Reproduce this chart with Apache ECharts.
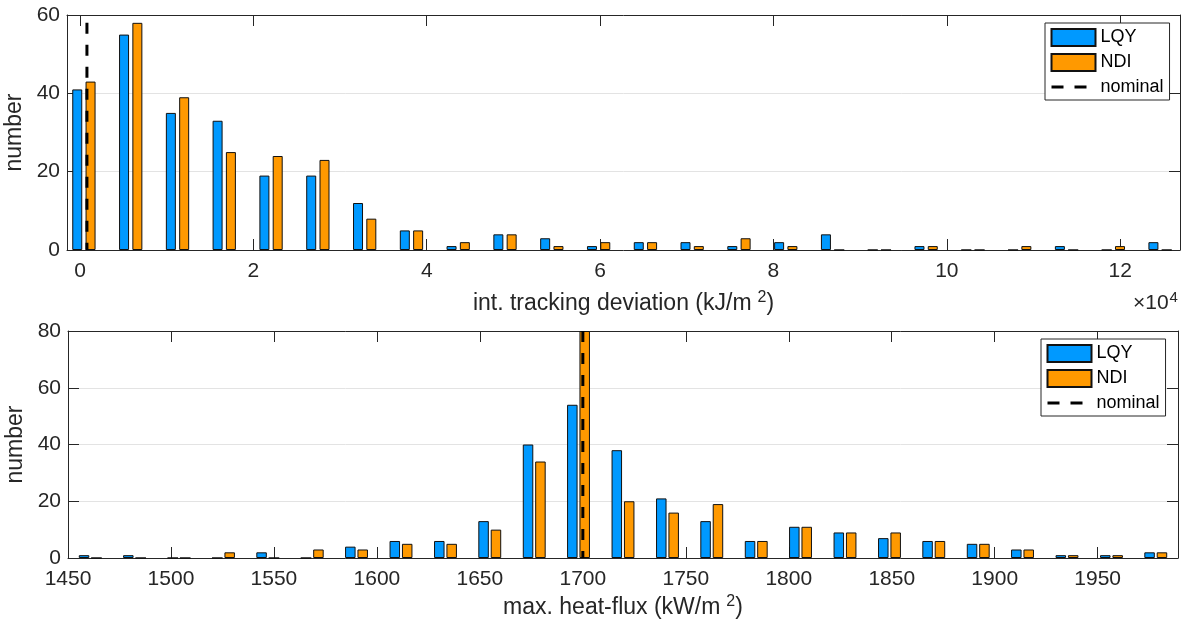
<!DOCTYPE html>
<html>
<head>
<meta charset="utf-8">
<script src="https://cdn.jsdelivr.net/npm/echarts@6/dist/echarts.min.js"></script>
<style>
html,body{margin:0;padding:0;background:#fff;}
#chart{width:1187px;height:627px;}
</style>
</head>
<body>
<div id="chart"></div>
<script>
// ---------- data ----------
// top: int. tracking deviation (x10^4 kJ/m^2), histogram bin centres
const topCenters = [0.045, 0.585, 1.125, 1.664, 2.204, 2.744, 3.284, 3.824, 4.363, 4.903, 5.443, 5.983,
                    6.523, 7.062, 7.602, 8.142, 8.682, 9.222, 9.761, 10.301, 10.841, 11.381, 11.921, 12.460];
const topLQY = [41, 55, 35, 33, 19, 19, 12, 5, 1, 4, 3, 1, 2, 2, 1, 2, 4, 0, 1, 0, 0, 1, 0, 2];
const topNDI = [43, 58, 39, 25, 24, 23, 8, 5, 2, 4, 1, 2, 2, 1, 3, 1, 0, 0, 1, 0, 1, 0, 1, 0];
const topNominalX = 0.08;
const topNominalY = [0, 58];
const topXTicks = [0, 2, 4, 6, 8, 10, 12];
const topYTicks = [0, 20, 40, 60];

// bottom: max. heat-flux (kW/m^2), histogram bin centres
const botCenters = [1460.8, 1482.3, 1503.9, 1525.5, 1547.0, 1568.6, 1590.1, 1611.7, 1633.3, 1654.8,
                    1676.4, 1697.9, 1719.5, 1741.1, 1762.6, 1784.2, 1805.7, 1827.3, 1848.9, 1870.4,
                    1892.0, 1913.5, 1935.1, 1956.7, 1978.2];
const botLQY = [1, 1, 0, 0, 2, 0, 4, 6, 6, 13, 40, 54, 38, 21, 13, 6, 11, 9, 7, 6, 5, 3, 1, 1, 2];
const botNDI = [0, 0, 0, 2, 0, 3, 3, 5, 5, 10, 34, 80, 20, 16, 19, 6, 11, 9, 9, 6, 5, 3, 1, 1, 2];
const botNominalX = 1700;
const botNominalY = [0, 80];
const botXTicks = [1450, 1500, 1550, 1600, 1650, 1700, 1750, 1800, 1850, 1900, 1950];
const botYTicks = [0, 20, 40, 60, 80];

const seriesNames = ['LQY', 'NDI', 'nominal'];

// ---------- styling ----------
const FONT = '"Liberation Sans", Arial, Helvetica, sans-serif';
const AX = '#262626';
const BLUE = '#0099ff';
const ORANGE = '#ff9900';
const TICK_FS = 21;
const NAME_FS = 23;

function pairs(xs, ys) { return xs.map((x, i) => [x, ys[i]]); }
function plain(v) { return String(v); }

function xAxisPair(grid, min, max, ticks, nameRich, nameGap) {
  return [
    {
      type: 'value', gridIndex: grid, position: 'bottom', min: min, max: max,
      axisLine: { show: true, onZero: false, lineStyle: { color: AX, width: 1 } },
      axisTick: { show: true, inside: true, length: 11, customValues: ticks, lineStyle: { color: AX } },
      axisLabel: { customValues: ticks, fontSize: TICK_FS, color: AX, fontFamily: FONT, margin: 11, formatter: plain },
      splitLine: { show: false },
      name: nameRich, nameLocation: 'middle', nameGap: nameGap,
      nameTextStyle: {
        color: AX, fontFamily: FONT, fontSize: NAME_FS,
        rich: {
          a: { fontSize: NAME_FS, color: AX, fontFamily: FONT, lineHeight: 28 },
          s: { fontSize: 16, color: AX, fontFamily: FONT, verticalAlign: 'top', lineHeight: 28, padding: [0, 0, 0, 6] }
        }
      }
    },
    {
      type: 'value', gridIndex: grid, position: 'top', min: min, max: max,
      axisLine: { show: true, onZero: false, lineStyle: { color: AX, width: 1 } },
      axisTick: { show: true, inside: true, length: 11, customValues: ticks, lineStyle: { color: AX } },
      axisLabel: { show: false },
      splitLine: { show: false }
    }
  ];
}

function yAxisPair(grid, max, ticks) {
  return [
    {
      type: 'value', gridIndex: grid, position: 'left', min: 0, max: max, interval: 20,
      axisLine: { show: true, onZero: false, lineStyle: { color: AX, width: 1 } },
      axisTick: { show: true, inside: true, length: 11, lineStyle: { color: AX } },
      axisLabel: { fontSize: TICK_FS, color: AX, fontFamily: FONT, margin: 7, formatter: plain },
      splitLine: { show: true, lineStyle: { color: '#e3e3e3', width: 1 } },
      name: 'number', nameLocation: 'middle', nameGap: 36,
      nameTextStyle: { color: AX, fontFamily: FONT, fontSize: NAME_FS }
    },
    {
      type: 'value', gridIndex: grid, position: 'right', min: 0, max: max, interval: 20,
      axisLine: { show: true, onZero: false, lineStyle: { color: AX, width: 1 } },
      axisTick: { show: true, inside: true, length: 11, lineStyle: { color: AX } },
      axisLabel: { show: false },
      splitLine: { show: false }
    }
  ];
}

function barSeries(name, color, xi, yi, data, width, gap) {
  return {
    type: 'bar', name: name, xAxisIndex: xi, yAxisIndex: yi, data: data,
    barWidth: width, barGap: gap, clip: true,
    itemStyle: { color: color, borderColor: '#111', borderWidth: 1 },
    emphasis: { disabled: true }, animation: false
  };
}

function nominalSeries(xi, yi, x, ys) {
  return {
    type: 'line', name: 'nominal', xAxisIndex: xi, yAxisIndex: yi,
    data: [[x, ys[1]], [x, ys[0]]],
    symbol: 'none', clip: true,
    lineStyle: { color: '#000', width: 3, type: [11, 11] },
    emphasis: { disabled: true }, animation: false, z: 5
  };
}

function legendAt(left, top) {
  return {
    orient: 'vertical', left: left, top: top,
    data: [
      { name: 'LQY', icon: 'rect' },
      { name: 'NDI', icon: 'rect' },
      { name: 'nominal', itemStyle: { color: 'rgba(0,0,0,0)', borderWidth: 0, opacity: 0 } }
    ],
    itemWidth: 44, itemHeight: 17, itemGap: 6,
    padding: [5, 6, 4, 5],
    backgroundColor: '#fff', borderColor: AX, borderWidth: 1, borderRadius: 0,
    textStyle: { fontSize: 18, color: '#000', fontFamily: FONT },
    lineStyle: { type: [12, 11], width: 3, color: '#000' },
    selectedMode: false
  };
}

const option = {
  animation: false,
  backgroundColor: '#fff',
  grid: [
    { left: 67, top: 15, width: 1113, height: 235, containLabel: false, outerBoundsMode: 'none' },
    { left: 68, top: 331, width: 1110, height: 227, containLabel: false, outerBoundsMode: 'none' }
  ],
  xAxis: [].concat(
    xAxisPair(0, -0.15, 12.69, topXTicks, '{a|int. tracking deviation (kJ/m}{s|2}{a|)}', 40),
    xAxisPair(1, 1450, 1989, botXTicks, '{a|max. heat-flux (kW/m}{s|2}{a|)}', 36)
  ),
  yAxis: [].concat(yAxisPair(0, 60, topYTicks), yAxisPair(1, 80, botYTicks)),
  legend: [legendAt(1045, 23), legendAt(1041, 339)],
  graphic: [
    {
      type: 'text', left: 1133, top: 290,
      style: {
        text: '{a|×10}{s|4}',
        rich: {
          a: { fontSize: 21, fill: AX, fontFamily: FONT, lineHeight: 26 },
          s: { fontSize: 15, fill: AX, fontFamily: FONT, verticalAlign: 'top', lineHeight: 26, padding: [0, 0, 0, 1] }
        }
      }
    }
  ],
  series: [
    barSeries('LQY', BLUE, 0, 0, pairs(topCenters, topLQY), 10, '33%'),
    barSeries('NDI', ORANGE, 0, 0, pairs(topCenters, topNDI), 10, '33%'),
    nominalSeries(0, 0, topNominalX, topNominalY),
    barSeries('LQY', BLUE, 2, 2, pairs(botCenters, botLQY), 10.5, '18%'),
    barSeries('NDI', ORANGE, 2, 2, pairs(botCenters, botNDI), 10.5, '18%'),
    nominalSeries(2, 2, botNominalX, botNominalY)
  ]
};

const chart = echarts.init(document.getElementById('chart'), null, { renderer: 'canvas' });
chart.setOption(option);
</script>
</body>
</html>
